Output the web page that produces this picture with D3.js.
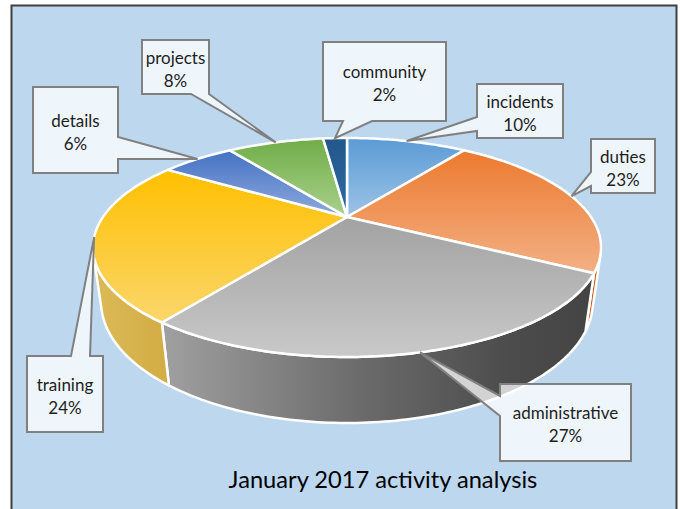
<!DOCTYPE html>
<html><head><meta charset="utf-8">
<script src="https://cdn.jsdelivr.net/npm/d3@7"></script>
<style>html,body{margin:0;padding:0;background:#fff;} svg{display:block;}</style>
</head><body>
<svg id="chart" width="680" height="509"></svg>
<script>
// ---- data ----
const categories = ["incidents","duties","administrative","training","details","projects","community"];
const values = [10,23,27,24,6,8,2];
const percentLabels = ["10%","23%","27%","24%","6%","8%","2%"];
const chartTitle = "January 2017 activity analysis";

// ---- styles ----
const topColors = [["#5B9BD5","#9DC3E6"],["#EC7A2E","#F3B085"],["#A2A2A2","#C9C9C9"],["#FFC000","#FBD66C"],["#4472C4","#8FAADC"],["#70AD47","#A9D18E"],["#22578A","#2D6BA6"]];
const sideColors = [[["#3F7CB8",0],["#3F7CB8",1]],
                    [["#D06A28",0],["#B8571A",1]],
                    [["#A0A0A0",0],["#6C6C6C",0.45],["#4C4C4C",0.8],["#444444",1]],
                    [["#DCBA58",0],["#D2AC44",1]],
                    [["#2F5597",0],["#2F5597",1]],
                    [["#548235",0],["#548235",1]],
                    [["#1F4E79",0],["#1F4E79",1]]];
// callout layout: box [x,y,w,h], edge the pointer leaves from, pointer base span along that edge
const calloutLayout = [
  {box:[477,84,86,54],  edge:"left",   base:[117,131]},
  {box:[591,139,64,54], edge:"left",   base:[172,186]},
  {box:[500,384,131,77],edge:"left",   base:[396,416]},
  {box:[27,356,76,76],  edge:"top",    base:[71,90]},
  {box:[33,87,85,86],   edge:"right",  base:[137,159]},
  {box:[142,40,67,54],  edge:"bottom", base:[191,209]},
  {box:[323,42,123,79], edge:"bottom", base:[343,372]}
];

const svg = d3.select("#chart");
const defs = svg.append("defs");

// frame
svg.append("rect").attr("x",11.5).attr("y",5.5).attr("width",665).attr("height",520)
  .attr("fill","#BDD7EE").attr("stroke","#404040").attr("stroke-width",2);

// ---- 3D perspective projection of the pie cylinder ----
const cx = 347, cy = 217;
const sinT = 0.414, cosT = Math.sqrt(1 - sinT*sinT);
const kk = 0.2785;
const dist = cosT / kk;
const focal = 244 * dist;
const depth = 0.243;
function proj(a, Y) {
  const X = Math.sin(a), Z = -Math.cos(a);
  const u = X, v = -Y*cosT + Z*sinT, w = dist - (Z*cosT + Y*sinT);
  return [cx + focal*u/w, cy + focal*v/w];
}
function arcPts(a0, a1, Y) {
  const n = Math.max(2, Math.ceil((a1 - a0) / (Math.PI/180)));
  return d3.range(n + 1).map(i => proj(a0 + (a1 - a0)*i/n, Y));
}
const line = d3.line();

const arcs = d3.pie().sort(null).value(d => d)(values);

arcs.forEach((a, i) => {
  const gt = defs.append("linearGradient").attr("id","top"+i).attr("x1",0).attr("y1",0).attr("x2",0).attr("y2",1);
  gt.append("stop").attr("offset",0).attr("stop-color",topColors[i][0]);
  gt.append("stop").attr("offset",1).attr("stop-color",topColors[i][1]);
  const gs = defs.append("linearGradient").attr("id","side"+i).attr("x1",0).attr("y1",0).attr("x2",1).attr("y2",0);
  sideColors[i].forEach(s => gs.append("stop").attr("offset",s[1]).attr("stop-color",s[0]));
});

// visible wall range (front-facing part of cylinder)
const Zcam = dist * cosT;
const aR = Math.acos(-1 / Zcam), aL = 2*Math.PI - aR;

const walls = svg.append("g");
arcs.forEach((a, i) => {
  const s = Math.max(a.startAngle, aR), e = Math.min(a.endAngle, aL);
  if (e <= s) return;
  const pts = arcPts(s, e, 0).concat(arcPts(s, e, -depth).reverse());
  walls.append("path").attr("d", line(pts) + "Z")
    .attr("fill", `url(#side${i})`).attr("stroke","#fff").attr("stroke-width",2.5).attr("stroke-linejoin","round");
});

const tops = svg.append("g");
arcs.forEach((a, i) => {
  const pts = [[cx, cy]].concat(arcPts(a.startAngle, a.endAngle, 0));
  tops.append("path").attr("d", line(pts) + "Z")
    .attr("fill", `url(#top${i})`).attr("stroke","#fff").attr("stroke-width",2.5).attr("stroke-linejoin","round");
});

// ---- callouts ----
const cg = svg.append("g");
arcs.forEach((a, i) => {
  const L = calloutLayout[i];
  const [x, y, w, h] = L.box;
  const tip = proj((a.startAngle + a.endAngle)/2, 0);
  const b0 = Math.min(...L.base), b1 = Math.max(...L.base);
  const p = [[x, y]];
  if (L.edge === "top") p.push([b0, y], tip, [b1, y]);
  p.push([x + w, y]);
  if (L.edge === "right") p.push([x + w, b0], tip, [x + w, b1]);
  p.push([x + w, y + h]);
  if (L.edge === "bottom") p.push([b1, y + h], tip, [b0, y + h]);
  p.push([x, y + h]);
  if (L.edge === "left") p.push([x, b1], tip, [x, b0]);
  cg.append("path").attr("d", line(p) + "Z")
    .attr("fill","#fff").attr("fill-opacity",0.75)
    .attr("stroke","#808080").attr("stroke-width",2).attr("stroke-linejoin","miter");
  const mx = x + w/2, my = y + h/2 + 1.5;
  cg.append("text").attr("x", mx).attr("y", my - 11.5).attr("text-anchor","middle")
    .attr("dominant-baseline","central").attr("font-family","Lato, 'Open Sans', sans-serif")
    .attr("font-size",17).attr("fill","#1e1e1e").text(categories[i]);
  cg.append("text").attr("x", mx).attr("y", my + 11.5).attr("text-anchor","middle")
    .attr("dominant-baseline","central").attr("font-family","Lato, 'Open Sans', sans-serif")
    .attr("font-size",17).attr("fill","#1e1e1e").text(percentLabels[i]);
});

// ---- title ----
const t = svg.append("text").attr("x",383).attr("y",488).attr("text-anchor","middle")
  .attr("font-family","Lato, 'Open Sans', sans-serif").attr("font-size",23).attr("fill","#000").text(chartTitle);
const tw = t.node().getComputedTextLength();
if (tw > 0) t.attr("font-size", 23 * 309 / tw);
</script>
</body></html>
